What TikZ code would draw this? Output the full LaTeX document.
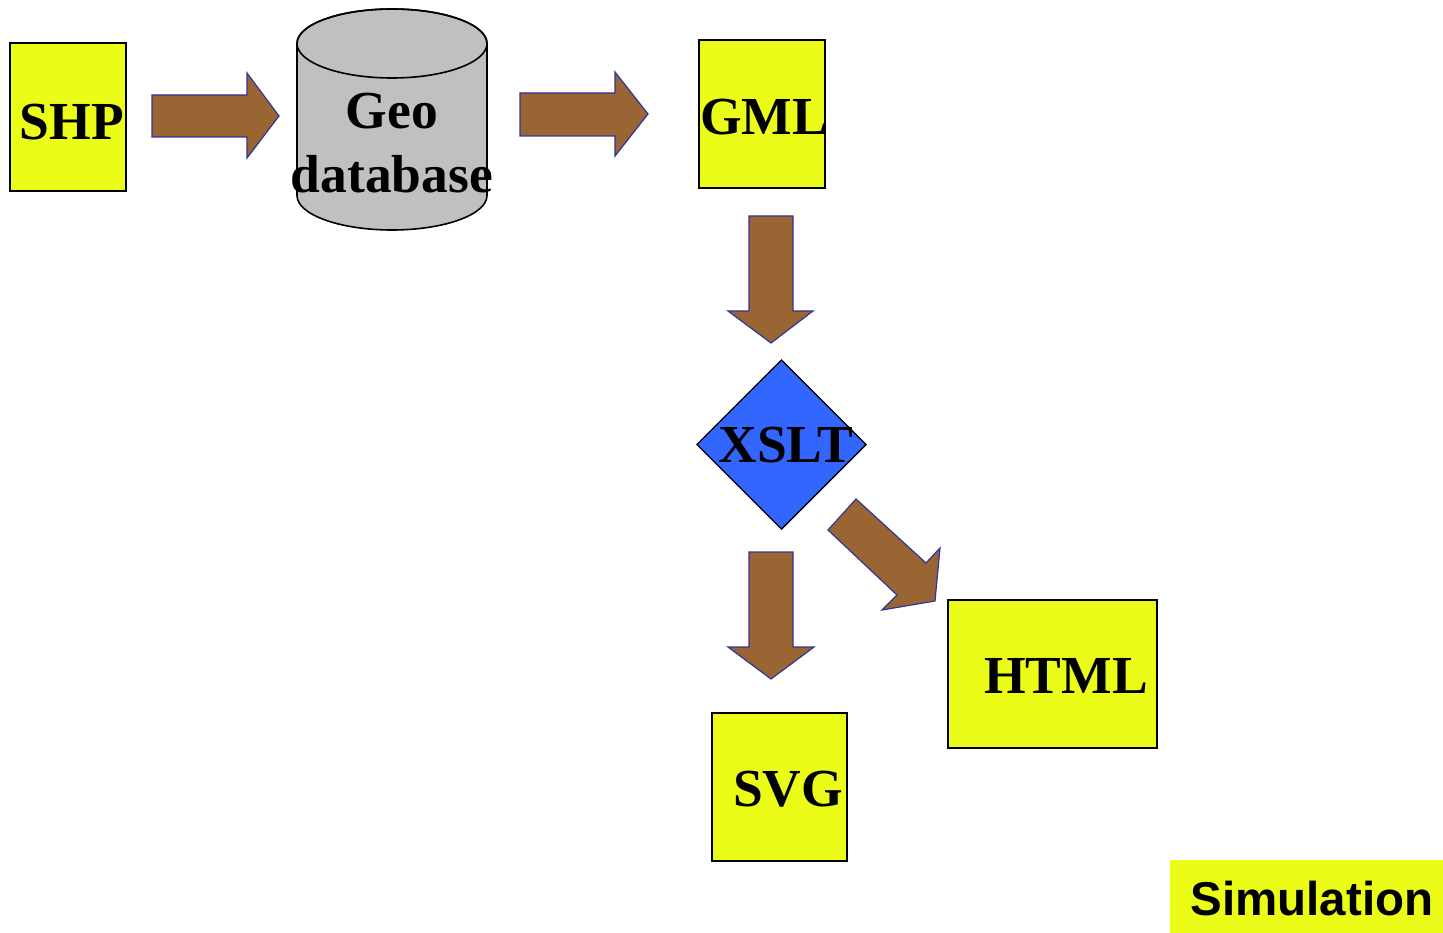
\documentclass[tikz,border=0pt]{standalone}
\usepackage{fontspec}
\setmainfont{Liberation Serif}
\newfontfamily\arialfont{Liberation Sans}
\definecolor{boxyellow}{RGB}{234,252,24}
\definecolor{arrowbrown}{RGB}{153,102,51}
\definecolor{arrowedge}{RGB}{51,51,153}
\definecolor{xsltblue}{RGB}{51,102,255}
\definecolor{dbgray}{RGB}{192,192,192}
\begin{document}
\begin{tikzpicture}[x=1pt,y=-1pt,
  boxshape/.style={draw=black,line width=1.6pt,fill=boxyellow},
  label52/.style={inner sep=0pt,anchor=base,font=\fontsize{53.5}{53.5}\selectfont\bfseries},
  blockarrow/.style={fill=arrowbrown,draw=arrowedge,line width=1.2pt,line join=miter}]
\useasboundingbox (0,0) rectangle (1443,933);
\fill[white] (0,0) rectangle (1443,933);

% SHP
\draw[boxshape] (10,43) rectangle (126,191);
\node[label52] (shp) at (72,140) {SHP};

% arrow SHP -> Geo database
\draw[blockarrow] (152,95) -- (247,95) -- (247,73) -- (279,116) -- (247,158) -- (247,137) -- (152,137) -- cycle;

% Geo database cylinder
\draw[fill=dbgray,line width=1.6pt] (297,43.5) -- (297,195.5) arc[start angle=180,end angle=0,x radius=95,y radius=34.5] -- (487,43.5) arc[start angle=0,end angle=-180,x radius=95,y radius=34.5] -- cycle;
\draw[line width=1.6pt] (392,43.5) ellipse[x radius=95,y radius=34.5];
\node[label52] (geo) at (392,129) {Geo};
\node[label52] (database) at (392,193) {database};

% arrow Geo database -> GML
\draw[blockarrow] (520,93) -- (615,93) -- (615,72) -- (648,114) -- (615,156) -- (615,136) -- (520,136) -- cycle;

% GML
\draw[boxshape] (699,40) rectangle (825,188);
\node[label52] (gml) at (764,135) {GML};

% arrow GML -> XSLT
\draw[blockarrow] (749,216) -- (793,216) -- (793,311) -- (813,311) -- (771,343) -- (728,311) -- (749,311) -- cycle;

% XSLT diamond
\draw[fill=xsltblue,draw=black,line width=1.4pt] (781.5,360) -- (866,444.5) -- (781.5,529) -- (697,444.5) -- cycle;
\node[label52] (xslt) at (786,462) {XSLT};

% arrow XSLT -> SVG
\draw[blockarrow] (749,552) -- (793,552) -- (793,647) -- (814,647) -- (771,679) -- (728,647) -- (749,647) -- cycle;

% arrow XSLT -> HTML
\draw[blockarrow] (828,530) -- (856,499) -- (926,563) -- (940,548) -- (935,601) -- (882,610) -- (897,595) -- cycle;

% HTML
\draw[boxshape] (948,600) rectangle (1157,748);
\node[label52] (html) at (1066,693) {HTML};

% SVG
\draw[boxshape] (712,713) rectangle (847,861);
\node[label52] (svg) at (788,806) {SVG};

% Simulation
\fill[boxyellow] (1170,860) rectangle (1443,933);
\node[inner sep=0pt,anchor=base,font=\arialfont\fontsize{47.5}{47.5}\selectfont\bfseries] (sim) at (1312,915) {Simulation};
\end{tikzpicture}
\end{document}
